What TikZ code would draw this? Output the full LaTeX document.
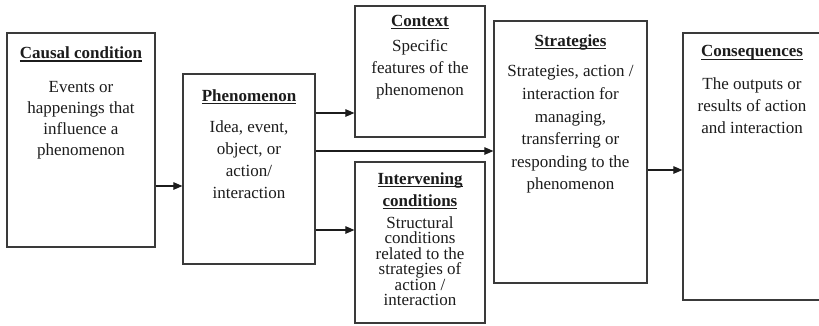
\documentclass[tikz,border=0pt]{standalone}
\usepackage{fontspec}
\setmainfont{Liberation Serif}
\usetikzlibrary{arrows.meta}
\definecolor{boxgray}{HTML}{3A3A3A}
\definecolor{ink}{HTML}{1C1C1C}
% bold heading with a heavy underline
\newcommand\headword[1]{\setbox0\hbox{\bfseries #1}\rlap{\rule[-3pt]{\wd0}{1.3pt}}\box0}
\begin{document}
\begin{tikzpicture}[x=1pt,y=-1pt,
  box/.style={draw=boxgray, line width=1.2pt, inner sep=0pt, fill=white},
  head/.style={font=\fontsize{17}{22}\selectfont, align=center, anchor=north, inner sep=0pt, text=ink},
  body/.style={font=\fontsize{17}{21.5}\selectfont, align=center, anchor=north, inner sep=0pt, text=ink},
  arr/.style={draw=ink, line width=1.1pt, -{Triangle[length=9pt,width=7.5pt]}}]
\clip (0,0) rectangle (819,325);
\fill[white] (0,0) rectangle (819,325);

% boxes
\node[box, minimum width=148, minimum height=214] (causal) at (81,140) {};
\node[box, minimum width=132, minimum height=190] (phen) at (249,169) {};
\node[box, minimum width=130, minimum height=131] (ctx) at (420,71.5) {};
\node[box, minimum width=130, minimum height=161] (interv) at (420,242.5) {};
\node[box, minimum width=153, minimum height=262] (strat) at (570.5,152) {};
\node[box, minimum width=138, minimum height=267] (cons) at (752,166.5) {};

% headings
\node[head] (causalH) at (81,46.5) {\headword{Causal condition}};
\node[head] (phenH) at (249,89) {\headword{Phenomenon}};
\node[head] (ctxH) at (420,15) {\headword{Context}};
\node[head] (intervH) at (420,172) {\headword{Intervening}\\\headword{conditions}};
\node[head] (stratH) at (570.5,34.5) {\headword{Strategies}};
\node[head] (consH) at (752,45.5) {\headword{Consequences}};

% descriptions
\node[body, font=\fontsize{17}{21}\selectfont] (causalT) at (81,81.5)
  {Events or\\happenings that\\influence a\\phenomenon};
\node[body, font=\fontsize{17}{22}\selectfont] (phenT) at (249,120.5)
  {Idea, event,\\object, or\\action/\\interaction};
\node[body, font=\fontsize{17}{22}\selectfont] (ctxT) at (420,39)
  {Specific\\features of the\\phenomenon};
\node[body, font=\fontsize{17}{15.4}\selectfont] (intervT) at (420,216.5)
  {Structural\\conditions\\related to the\\strategies of\\action /\\interaction};
\node[body, font=\fontsize{17}{22.6}\selectfont] (stratT) at (570.5,65.5)
  {Strategies, action /\\interaction for\\managing,\\transferring or\\responding to the\\phenomenon};
\node[body, font=\fontsize{17}{22}\selectfont] (consT) at (752,77)
  {The outputs or\\results of action\\and interaction};

% connectors
\draw[arr] (causal.east |- 0,186) -- (phen.west |- 0,186);
\draw[arr] (phen.east |- 0,113) -- (ctx.west |- 0,113);
\draw[arr] (phen.east |- 0,151) -- (strat.west |- 0,151);
\draw[arr] (phen.east |- 0,230) -- (interv.west |- 0,230);
\draw[arr] (strat.east |- 0,170) -- (cons.west |- 0,170);
\end{tikzpicture}
\end{document}
